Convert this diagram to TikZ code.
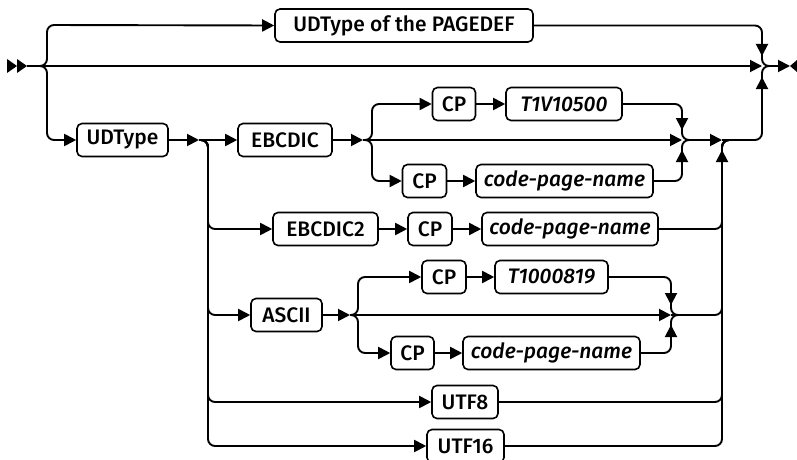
\documentclass[tikz,border=0pt]{standalone}
\usepackage{fontspec}
\setmainfont{Fira Sans}[UprightFont=* Medium, ItalicFont=* Medium Italic]
\usetikzlibrary{arrows.meta,calc}
\begin{document}
\begin{tikzpicture}[x=1pt,y=-1pt,
  ln/.style={line width=1.9pt, line join=round},
  ar/.style={ln, -{Triangle[length=12pt,width=12pt]}},
  rc/.style={ln, rounded corners=7pt},
  rca/.style={ar, rounded corners=7pt},
  kw/.style={draw, line width=1.6pt, rounded corners=5pt, minimum height=33pt, inner sep=0pt, font=\fontsize{21}{21}\selectfont},
  var/.style={kw, font=\fontsize{21}{21}\selectfont\itshape},
]
\useasboundingbox (0,0) rectangle (797,460);
% nodes
\node[kw, minimum width=258pt] (pg) at (404,25.5) {UDType of the PAGEDEF};
\node[kw, minimum width=91pt] (udt) at (122.5,140) {UDType};
\node[kw, minimum width=94pt] (ebc) at (285,140) {EBCDIC};
\node[kw, minimum width=43pt] (cpA) at (454,104) {CP};
\node[var, minimum width=116pt] (tA) at (564,104) {T1V10500};
\node[kw, minimum width=44pt] (cpB) at (424.5,181) {CP};
\node[var, minimum width=177pt] (nB) at (564.5,181) {code-page-name};
\node[kw, minimum width=105pt] (ebc2) at (325.5,229) {EBCDIC2};
\node[kw, minimum width=44pt] (cpC) at (430,229) {CP};
\node[var, minimum width=176pt] (nC) at (570,229) {code-page-name};
\node[kw, minimum width=71pt] (asc) at (286.5,315) {ASCII};
\node[kw, minimum width=44pt] (cpD) at (444,277) {CP};
\node[var, minimum width=113pt] (tD) at (551.5,277) {T1000819};
\node[kw, minimum width=43pt] (cpE) at (412.5,353) {CP};
\node[var, minimum width=177pt] (nE) at (551.5,353) {code-page-name};
\node[kw, minimum width=66pt] (u8) at (465,402) {UTF8};
\node[kw, minimum width=77pt] (u16) at (465.5,446) {UTF16};
% junction coordinates
\coordinate (s0) at (27,66);
\coordinate (sp) at (40,66);
\coordinate (jR) at (762,66);
\coordinate (e0) at (790,66);
\coordinate (mE) at (682,140);
\coordinate (mB) at (722,140);
\coordinate (mA) at (671,315);
% start marker
\fill (7,59) -- (17,66) -- (7,73) -- cycle;
\fill (17,59) -- (27,66) -- (17,73) -- cycle;
% main line and top branch
\draw[ar] (s0) -- (jR);
\draw[rca] (sp) -| (47,25) -- (pg.west);
\draw[rca] (sp) -| (47,140) -- (udt.west);
\draw[rc] (pg.east) -| (jR) -- (769,66);
\draw[ar] (762,40) -- (762,56);
\draw[rc] (mB) -| (jR) -- (769,66);
\draw[ar] (762,92) -- (762,77);
\draw[ar] (769,66) -- (e0);
\fill (797,60) -- (790,66) -- (797,72) -- cycle;
% UDType split
\draw[ar] (udt.east) -- (199,140);
\draw[ar] (199,140) -- (ebc.west);
\draw[rca] (201,140) -| (208,229) -- (ebc2.west);
\draw[rca] (201,140) -| (208,315) -- (asc.west);
\draw[rca] (201,140) -| (208,402) -- (u8.west);
\draw[rca] (201,140) -| (208,446) -- (u16.west);
% EBCDIC
\draw[ar] (ebc.east) -- (363,140);
\draw[ar] (363,140) -- (mE);
\draw[rca] (365,140) -| (372,104) -- (cpA.west);
\draw[rca] (365,140) -| (372,181) -- (cpB.west);
\draw[ar] (cpA) -- (tA);
\draw[ar] (cpB) -- (nB);
\draw[rc] (tA.east) -| (mE) -- (690,140);
\draw[ar] (682,118) -- (682,130);
\draw[rc] (nB.east) -| (mE) -- (690,140);
\draw[ar] (682,162) -- (682,150);
\draw[ar] (690,140) -- (mB);
\draw[ar] (722,165) -- (722,150);
% EBCDIC2
\draw[ar] (ebc2) -- (cpC);
\draw[ar] (cpC) -- (nC);
\draw[rc] (nC.east) -| (mB) -- (729,140);
% ASCII
\draw[ar] (asc.east) -- (350,315);
\draw[ar] (350,315) -- (mA);
\draw[rca] (351,315) -| (358,277) -- (cpD.west);
\draw[rca] (351,315) -| (358,353) -- (cpE.west);
\draw[ar] (cpD) -- (tD);
\draw[ar] (cpE) -- (nE);
\draw[rc] (tD.east) -| (mA) -- (679,315);
\draw[ar] (671,293) -- (671,305);
\draw[rc] (nE.east) -| (mA) -- (679,315);
\draw[ar] (671,337) -- (671,325);
\draw[rc] (mA) -- (679,315) -| (mB) -- (729,140);
% UTF8 / UTF16
\draw[rc] (u8.east) -| (mB) -- (729,140);
\draw[rc] (u16.east) -| (mB) -- (729,140);
\end{tikzpicture}
\end{document}
